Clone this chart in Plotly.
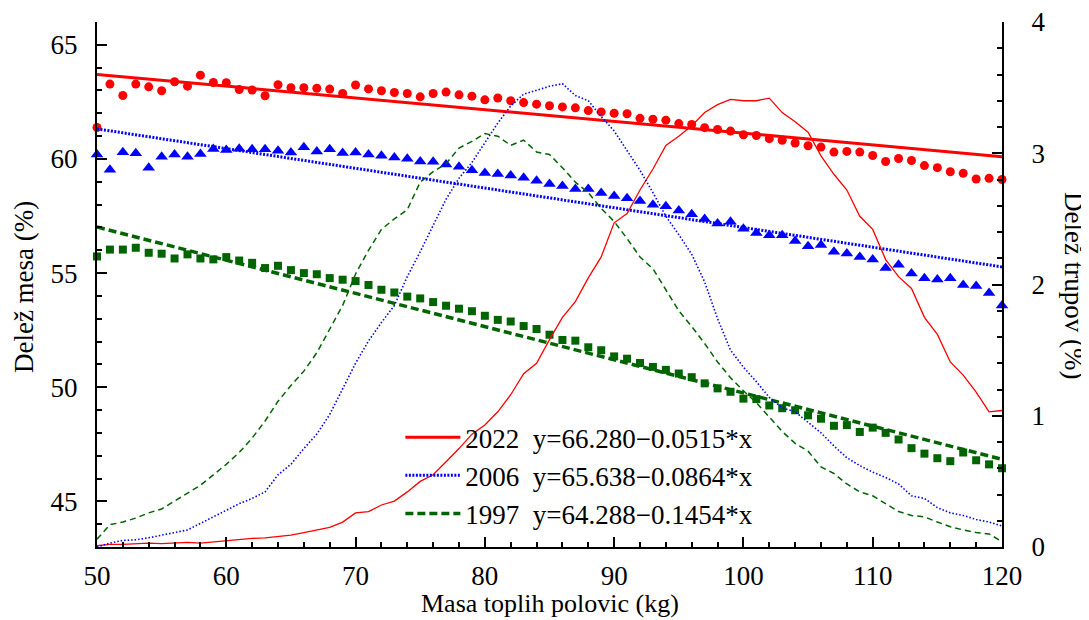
import plotly.graph_objects as go

# ---------------- data ----------------
x = list(range(50, 121))

years = ["2022", "2006", "1997"]
intercepts = [66.280, 65.638, 64.288]
slopes = [-0.0515, -0.0864, -0.1454]

meat_2022 = [61.38, 63.28, 62.78, 63.28, 63.16, 62.99, 63.38, 63.19, 63.67, 63.35,
             63.34, 63.04, 63.02, 62.77, 63.25, 63.12, 63.12, 63.10, 63.06, 62.87,
             63.24, 63.07, 62.99, 62.91, 62.87, 62.72, 62.87, 62.93, 62.81, 62.75,
             62.59, 62.67, 62.55, 62.47, 62.40, 62.33, 62.28, 62.24, 62.12, 62.06,
             62.00, 61.98, 61.78, 61.74, 61.70, 61.55, 61.51, 61.37, 61.29, 61.22,
             61.06, 61.03, 60.89, 60.82, 60.70, 60.58, 60.52, 60.30, 60.33, 60.30,
             60.15, 59.89, 60.02, 59.93, 59.71, 59.62, 59.44, 59.37, 59.12, 59.15,
             59.10]
meat_2006 = [60.19, 59.53, 60.29, 60.25, 59.61, 60.10, 60.19, 60.10, 60.22, 60.44,
             60.39, 60.45, 60.42, 60.42, 60.36, 60.28, 60.51, 60.33, 60.42, 60.26,
             60.28, 60.19, 60.14, 60.06, 60.01, 59.89, 59.88, 59.76, 59.66, 59.51,
             59.39, 59.34, 59.28, 59.18, 59.04, 58.90, 58.82, 58.68, 58.68, 58.51,
             58.38, 58.28, 58.16, 57.99, 57.93, 57.74, 57.58, 57.37, 57.17, 57.25,
             56.94, 56.76, 56.66, 56.66, 56.41, 56.18, 56.23, 55.94, 55.86, 55.71,
             55.59, 55.22, 55.37, 54.98, 54.77, 54.72, 54.77, 54.48, 54.43, 54.13,
             53.58]
meat_1997 = [55.73, 56.03, 56.03, 56.11, 55.89, 55.85, 55.64, 55.82, 55.64, 55.60,
             55.70, 55.55, 55.45, 55.22, 55.32, 55.13, 55.00, 54.95, 54.78, 54.71,
             54.65, 54.48, 54.27, 54.15, 53.97, 53.89, 53.73, 53.57, 53.44, 53.33,
             53.13, 52.95, 52.88, 52.68, 52.55, 52.30, 52.07, 52.04, 51.75, 51.62,
             51.35, 51.25, 51.06, 50.89, 50.76, 50.60, 50.44, 50.17, 49.95, 49.80,
             49.50, 49.48, 49.20, 49.08, 48.99, 48.77, 48.62, 48.31, 48.34, 48.04,
             48.23, 48.00, 47.71, 47.33, 47.09, 46.89, 46.76, 47.14, 46.80, 46.62,
             46.45]

share_2022 = [0.01, 0.02, 0.02, 0.025, 0.03, 0.025, 0.03, 0.035, 0.03, 0.04,
              0.045, 0.055, 0.065, 0.07, 0.08, 0.09, 0.11, 0.13, 0.15, 0.19,
              0.26, 0.27, 0.32, 0.35, 0.42, 0.50, 0.55, 0.65, 0.75, 0.86,
              0.93, 1.03, 1.16, 1.32, 1.40, 1.58, 1.75, 1.87, 2.05, 2.21,
              2.47, 2.54, 2.72, 2.88, 3.06, 3.13, 3.21, 3.31, 3.37, 3.41,
              3.40, 3.40, 3.42, 3.31, 3.24, 3.16, 2.98, 2.84, 2.72, 2.52,
              2.42, 2.19, 2.06, 1.97, 1.75, 1.62, 1.41, 1.31, 1.18, 1.03,
              1.04]
share_2006 = [0.00, 0.03, 0.05, 0.055, 0.07, 0.09, 0.11, 0.13, 0.18, 0.23,
              0.28, 0.33, 0.37, 0.42, 0.55, 0.63, 0.75, 0.86, 1.01, 1.20,
              1.40, 1.57, 1.71, 1.84, 2.06, 2.25, 2.45, 2.65, 2.81, 2.93,
              3.08, 3.23, 3.36, 3.45, 3.48, 3.51, 3.53, 3.44, 3.40, 3.28,
              3.17, 3.02, 2.87, 2.70, 2.52, 2.38, 2.23, 2.02, 1.74, 1.50,
              1.37, 1.26, 1.14, 1.06, 1.03, 0.95, 0.87, 0.77, 0.68, 0.62,
              0.57, 0.53, 0.48, 0.39, 0.37, 0.30, 0.26, 0.24, 0.21, 0.19,
              0.16]
share_1997 = [0.06, 0.17, 0.19, 0.22, 0.26, 0.29, 0.35, 0.41, 0.47, 0.55,
              0.63, 0.72, 0.83, 0.96, 1.11, 1.23, 1.34, 1.48, 1.66, 1.84,
              2.08, 2.26, 2.42, 2.50, 2.57, 2.78, 2.86, 2.92, 3.04, 3.09,
              3.15, 3.13, 3.06, 3.10, 3.01, 2.99, 2.89, 2.78, 2.70, 2.58,
              2.48, 2.35, 2.21, 2.12, 1.96, 1.80, 1.68, 1.55, 1.41, 1.29,
              1.19, 1.10, 0.99, 0.88, 0.79, 0.73, 0.61, 0.56, 0.48, 0.42,
              0.39, 0.33, 0.27, 0.24, 0.23, 0.19, 0.155, 0.13, 0.11, 0.10,
              0.04]

x_title = "Masa toplih polovic (kg)"
y_title = "Delež mesa (%)"
y2_title = "Delež trupov (%)"

# ---------------- styling ----------------
FONT = "Liberation Serif"
colors = ["#ff0000", "#0000ff", "#006400"]
meat = [meat_2022, meat_2006, meat_1997]
share = [share_2022, share_2006, share_1997]
symbols = ["circle", "triangle-up", "square"]
msizes = [9, 11, 8]
reg_dash = ["solid", "2px,1.5px", "8px,4px"]
reg_width = [3, 3, 3.5]
dist_dash = ["solid", "1.5px,2px", "6px,4px"]
dist_width = [1.3, 1.6, 1.5]

fig = go.Figure()

# distribution lines (right axis)
for i in range(3):
    fig.add_trace(go.Scatter(
        x=x, y=share[i], yaxis="y2", mode="lines",
        line=dict(color=colors[i], width=dist_width[i], dash=dist_dash[i]),
        showlegend=False, hoverinfo="skip"))

# meat share markers (left axis)
for i in range(3):
    fig.add_trace(go.Scatter(
        x=x, y=meat[i], mode="markers", cliponaxis=False,
        marker=dict(symbol=symbols[i], size=msizes[i], color=colors[i],
                    line=dict(width=0)),
        showlegend=False))

# regression lines
for i in range(3):
    yreg = [intercepts[i] + slopes[i] * xv for xv in x]
    label = "{}\u00a0\u00a0y={:.3f}\u2212{:.4f}*x".format(years[i], intercepts[i], -slopes[i])
    fig.add_trace(go.Scatter(
        x=x, y=yreg, mode="lines", name=label, legendgroup=years[i],
        line=dict(color=colors[i], width=reg_width[i], dash=reg_dash[i])))

axis_common = dict(
    showgrid=False, zeroline=False, showline=True, linecolor="black", linewidth=2,
    ticks="inside", ticklen=10, tickwidth=1.5, tickcolor="black",
    tickfont=dict(family=FONT, size=27, color="black"),
    ticklabeloverflow="allow", automargin=False,
)
minor_common = dict(ticklen=5, ticks="inside", tickcolor="black", tickwidth=1.5)
title_font = dict(family=FONT, size=27, color="black")

# the page body adds an 8px offset, so the figure is 8px smaller than the window
fig.update_layout(
    width=1081, height=612,
    margin=dict(l=89, r=87, t=14, b=73),
    paper_bgcolor="white", plot_bgcolor="white",
    font=dict(family=FONT, color="black"),
    xaxis=dict(range=[50, 120], tick0=50, dtick=10, ticklabelstandoff=4,
               minor=dict(dtick=2, **minor_common), **axis_common),
    yaxis=dict(range=[43, 66], tick0=45, dtick=5, ticklabelstandoff=12,
               minor=dict(dtick=1, **minor_common), **axis_common),
    yaxis2=dict(range=[0, 4], tick0=0, dtick=1, overlaying="y", side="right",
                ticklabelstandoff=22,
                minor=dict(dtick=0.2, **minor_common), **axis_common),
    legend=dict(x=0.3352, y=0.255, xanchor="left", yanchor="top",
                bgcolor="rgba(0,0,0,0)", borderwidth=0,
                font=dict(family=FONT, size=27, color="black"),
                itemwidth=55, tracegroupgap=0, traceorder="normal"),
    annotations=[
        dict(text=y_title, xref="paper", yref="paper", x=-0.0807, y=0.495,
             xanchor="center", yanchor="middle",
             textangle=-90, showarrow=False, font=title_font),
        dict(text=y2_title, xref="paper", yref="paper", x=1.0796, y=0.499,
             xanchor="center", yanchor="middle",
             textangle=90, showarrow=False, font=title_font),
        dict(text=x_title, xref="paper", yref="paper", x=0.5006, y=-0.1067,
             xanchor="center", yanchor="middle",
             showarrow=False, font=dict(family=FONT, size=26, color="black")),
    ],
)

fig.write_html("out.html")
